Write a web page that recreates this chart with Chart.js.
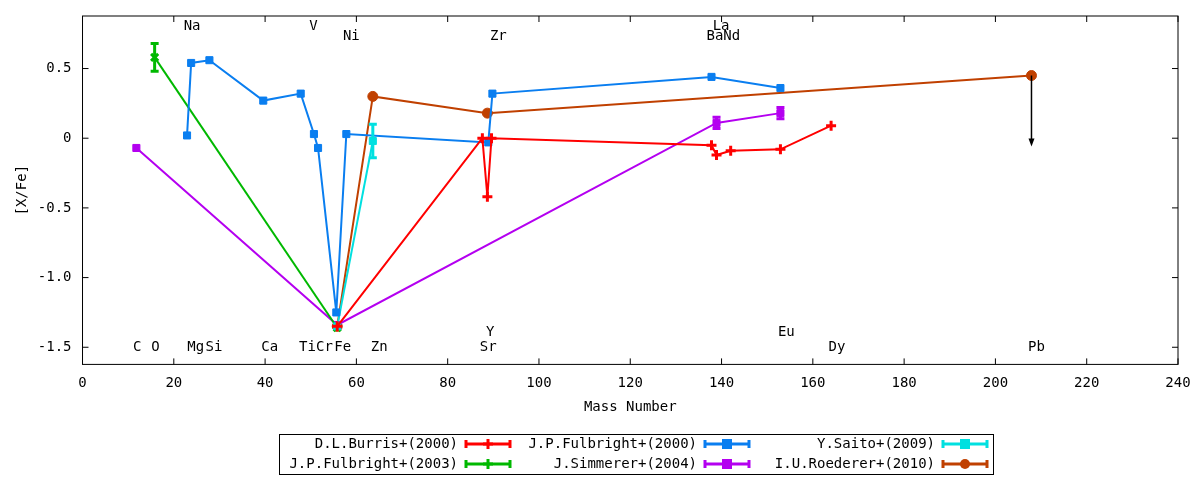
<!DOCTYPE html>
<html>
<head>
<meta charset="utf-8">
<script src="https://cdn.jsdelivr.net/npm/chart.js@4.4.0/dist/chart.umd.min.js"></script>
<style>
  body { margin: 0; background: #fff; }
  #wrap { width: 1200px; height: 480px; }
</style>
</head>
<body>
<div id="wrap"><canvas id="c"></canvas></div>
<script>
// mass number / [X/Fe] pairs
const burrisX = [55.8, 87.6, 88.7, 89.6, 137.8, 138.9, 142, 152.9, 164];
const burrisY = [-1.35, 0.0, -0.42, 0.0, -0.05, -0.12, -0.09, -0.08, 0.09];
const fulb00X = [22.9, 23.8, 27.8, 39.6, 47.8, 50.7, 51.6, 55.6, 57.8, 88.9, 89.8, 137.8, 152.9];
const fulb00Y = [0.02, 0.54, 0.56, 0.27, 0.32, 0.03, -0.07, -1.25, 0.03, -0.03, 0.32, 0.44, 0.36];
const saitoX = [55.8, 63.6];
const saitoY = [-1.35, -0.02];
const saitoErr = [0, 0.12];
const fulb03X = [15.8, 55.8];
const fulb03Y = [0.58, -1.36];
const fulb03Err = [0.1, 0];
const simmX = [11.8, 55.8, 138.9, 152.9];
const simmY = [-0.07, -1.34, 0.11, 0.18];
const simmErr = [0, 0, 0.04, 0.04];
const roedX = [55.8, 63.6, 88.7, 207.9];
const roedY = [-1.35, 0.30, 0.18, 0.45];
const pbLimit = -0.06;

const xTicks = [0, 20, 40, 60, 80, 100, 120, 140, 160, 180, 200, 220, 240];
const yTicks = [-1.5, -1, -0.5, 0, 0.5];

// element names: [label, mass, [X/Fe] position]
const elemLabels = [
  ["Na", 24, 0.80], ["V", 50.6, 0.80], ["La", 139.9, 0.80],
  ["Ni", 58.9, 0.73], ["Zr", 91.1, 0.73], ["BaNd", 140.4, 0.73],
  ["Y", 89.3, -1.39], ["Eu", 154.2, -1.39],
  ["C", 12, -1.5], ["O", 16, -1.5], ["Mg", 24.8, -1.5], ["Si", 28.8, -1.5],
  ["Ca", 41, -1.5], ["Ti", 49.3, -1.5], ["Cr", 53, -1.5], ["Fe", 57, -1.5],
  ["Zn", 65, -1.5], ["Sr", 88.9, -1.5], ["Dy", 165.3, -1.5], ["Pb", 209, -1.5]
];

const FONT = "'DejaVu Sans Mono', monospace";

function pts(xs, ys) { return xs.map((x, i) => ({ x: x, y: ys[i] })); }

function series(label, xs, ys, color, style, err) {
  return {
    label: label, data: pts(xs, ys), err: err,
    borderColor: color, backgroundColor: color,
    borderWidth: 2, pointStyle: style, pointRadius: 5,
    pointBorderWidth: style === "cross" || style === "crossRot" ? 3 : 1,
    showLine: true, tension: 0
  };
}

const datasets = [
  series("D.L.Burris+(2000)", burrisX, burrisY, "#ff0000", "cross"),
  series("J.P.Fulbright+(2000)", fulb00X, fulb00Y, "#0a7ef0", "rect"),
  series("Y.Saito+(2009)", saitoX, saitoY, "#00e0e0", "rect", saitoErr),
  series("J.P.Fulbright+(2003)", fulb03X, fulb03Y, "#00b800", "crossRot", fulb03Err),
  series("J.Simmerer+(2004)", simmX, simmY, "#b400f0", "rect", simmErr),
  series("I.U.Roederer+(2010)", roedX, roedY, "#c04000", "circle")
];

const extras = {
  id: "extras",
  afterDatasetsDraw(chart) {
    const { ctx, scales: { x, y }, chartArea: a } = chart;
    ctx.save();
    // error bars
    chart.data.datasets.forEach(ds => {
      if (!ds.err) return;
      ctx.strokeStyle = ds.borderColor; ctx.lineWidth = 3;
      ds.data.forEach((p, i) => {
        const e = ds.err[i]; if (!e) return;
        const px = x.getPixelForValue(p.x);
        const t = y.getPixelForValue(p.y + e), b = y.getPixelForValue(p.y - e);
        ctx.beginPath();
        ctx.moveTo(px, t); ctx.lineTo(px, b);
        ctx.moveTo(px - 4, t); ctx.lineTo(px + 4, t);
        ctx.moveTo(px - 4, b); ctx.lineTo(px + 4, b);
        ctx.stroke();
      });
    });
    // Pb upper limit arrow
    const ax = x.getPixelForValue(roedX[3]);
    const ay0 = y.getPixelForValue(roedY[3]), ay1 = y.getPixelForValue(pbLimit);
    ctx.strokeStyle = "#000"; ctx.fillStyle = "#000"; ctx.lineWidth = 1.5;
    ctx.beginPath(); ctx.moveTo(ax, ay0); ctx.lineTo(ax, ay1 - 6); ctx.stroke();
    ctx.beginPath(); ctx.moveTo(ax - 3, ay1 - 8); ctx.lineTo(ax + 3, ay1 - 8); ctx.lineTo(ax, ay1); ctx.fill();
    // element names
    ctx.font = "14px " + FONT; ctx.fillStyle = "#000";
    ctx.textAlign = "center"; ctx.textBaseline = "middle";
    elemLabels.forEach(l => ctx.fillText(l[0], x.getPixelForValue(l[1]), y.getPixelForValue(l[2])));
    // mirrored ticks on top and right
    ctx.strokeStyle = "#000"; ctx.lineWidth = 1;
    ctx.beginPath();
    xTicks.forEach(v => { const p = x.getPixelForValue(v); ctx.moveTo(p, a.top); ctx.lineTo(p, a.top + 6); ctx.moveTo(p, a.bottom); ctx.lineTo(p, a.bottom - 6); });
    yTicks.forEach(v => { const p = y.getPixelForValue(v); ctx.moveTo(a.right, p); ctx.lineTo(a.right - 6, p); ctx.moveTo(a.left, p); ctx.lineTo(a.left + 6, p); });
    ctx.strokeRect(a.left, a.top, a.right - a.left, a.bottom - a.top);
    ctx.stroke();
    // legend box
    ctx.strokeRect(279.5, 434.5, 714, 40);
    ctx.font = "14px " + FONT; ctx.textAlign = "right";
    const cols = [[458, 466], [697, 705], [935, 943]];
    chart.data.datasets.forEach((ds, i) => {
      const c = cols[i % 3], ry = 444 + Math.floor(i / 3) * 20;
      ctx.fillStyle = "#000"; ctx.fillText(ds.label, c[0], ry);
      ctx.strokeStyle = ds.borderColor; ctx.lineWidth = 3;
      ctx.beginPath();
      ctx.moveTo(c[1], ry); ctx.lineTo(c[1] + 44, ry);
      ctx.moveTo(c[1], ry - 4); ctx.lineTo(c[1], ry + 4);
      ctx.moveTo(c[1] + 44, ry - 4); ctx.lineTo(c[1] + 44, ry + 4);
      ctx.stroke();
      ctx.fillStyle = ds.borderColor;
      const mx = c[1] + 22;
      if (ds.pointStyle === "circle") { ctx.beginPath(); ctx.arc(mx, ry, 5, 0, 7); ctx.fill(); }
      else if (ds.pointStyle === "rect") ctx.fillRect(mx - 5, ry - 5, 10, 10);
      else { ctx.beginPath(); ctx.moveTo(mx, ry - 5); ctx.lineTo(mx, ry + 5); ctx.moveTo(mx - 5, ry); ctx.lineTo(mx + 5, ry); ctx.stroke(); }
    });
    ctx.restore();
  }
};

new Chart(document.getElementById("c"), {
  type: "scatter",
  data: { datasets: datasets },
  plugins: [extras],
  options: {
    responsive: true, maintainAspectRatio: false, animation: false,
    layout: { padding: { top: 16, right: 22, bottom: 60, left: 10 } },
    plugins: { legend: { display: false }, tooltip: { enabled: false } },
    scales: {
      x: {
        type: "linear", min: 0, max: 240,
        afterBuildTicks: s => { s.ticks = xTicks.map(v => ({ value: v })); },
        grid: { display: false }, border: { display: false },
        ticks: { color: "#000", font: { family: FONT, size: 14 }, maxRotation: 0 },
        title: { display: true, text: "Mass Number", color: "#000", font: { family: FONT, size: 14 } }
      },
      y: {
        type: "linear", min: -1.623, max: 0.877,
        afterBuildTicks: s => { s.ticks = yTicks.map(v => ({ value: v })); },
        grid: { display: false }, border: { display: false },
        ticks: { color: "#000", font: { family: FONT, size: 14 } },
        title: { display: true, text: "[X/Fe]", color: "#000", font: { family: FONT, size: 14 } }
      }
    }
  }
});
</script>
</body>
</html>
